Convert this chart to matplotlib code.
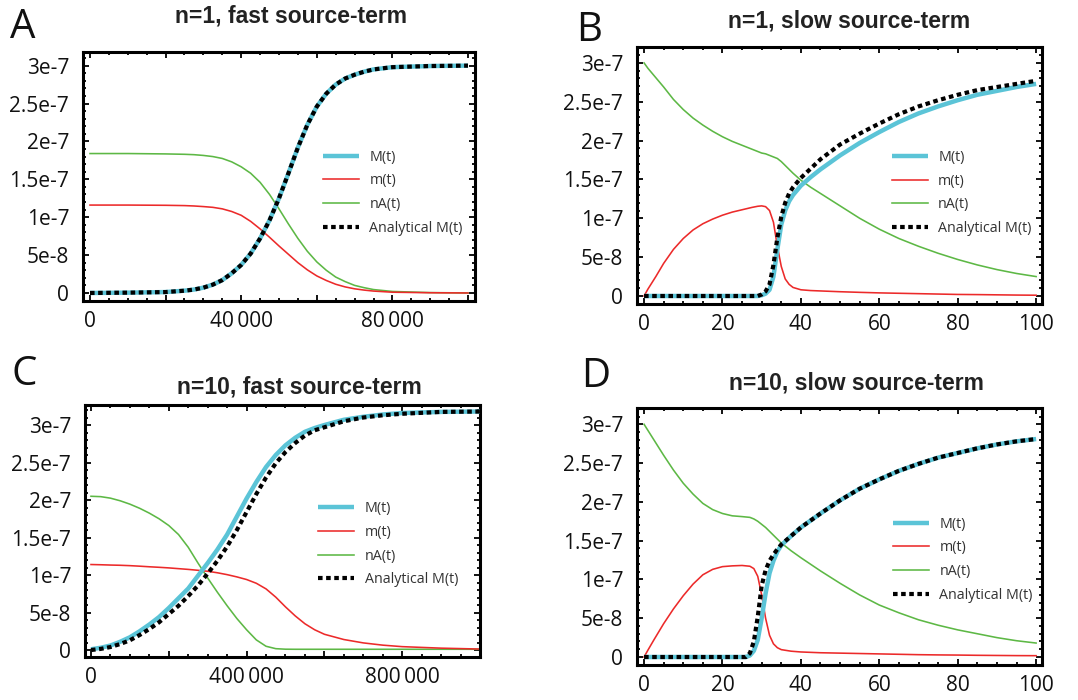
import matplotlib
matplotlib.use("Agg")
import matplotlib.pyplot as plt
from matplotlib.ticker import FixedLocator, MultipleLocator, FuncFormatter

# ---- panel A: n=1, fast source-term (values in units of 1e-7) ----
t_a = [0, 10000, 20000, 25000, 27500, 30000, 32500, 35000, 37500, 40000, 42500, 45000,
       47500, 50000, 52500, 55000, 57500, 60000, 62500, 65000, 67500, 70000, 72500, 75000,
       80000, 90000, 100000]
M_a = [0.0, 0.004, 0.012, 0.03, 0.045, 0.07, 0.11, 0.17, 0.26, 0.37, 0.52, 0.72,
       0.96, 1.25, 1.58, 1.92, 2.22, 2.46, 2.63, 2.75, 2.83, 2.88, 2.92, 2.95,
       2.98, 2.995, 3.0]
m_a = [1.16, 1.16, 1.157, 1.153, 1.148, 1.14, 1.13, 1.11, 1.075, 1.025, 0.945, 0.845,
       0.735, 0.62, 0.51, 0.40, 0.305, 0.225, 0.165, 0.115, 0.08, 0.055, 0.038, 0.025,
       0.01, 0.003, 0.0]
nA_a = [1.84, 1.84, 1.835, 1.83, 1.825, 1.815, 1.80, 1.775, 1.73, 1.665, 1.58, 1.46,
        1.30, 1.11, 0.91, 0.72, 0.55, 0.41, 0.30, 0.21, 0.15, 0.10, 0.07, 0.045,
        0.02, 0.005, 0.0]
Man_a = [0.0, 0.004, 0.012, 0.03, 0.045, 0.07, 0.11, 0.17, 0.26, 0.37, 0.52, 0.72,
         0.96, 1.25, 1.58, 1.92, 2.22, 2.46, 2.63, 2.75, 2.83, 2.88, 2.92, 2.95,
         2.98, 2.995, 3.0]

# ---- panel B: n=1, slow source-term ----
t_b = [0, 1, 2, 3, 5, 7.5, 10, 12.5, 15, 17.5, 20, 22.5, 25, 27.5, 29, 30, 31, 32, 33,
       34, 35, 36, 37, 38, 40, 42.5, 45, 50, 55, 60, 65, 70, 75, 80, 85, 90, 95, 100]
M_b = [0, 0, 0, 0, 0, 0, 0, 0, 0, 0, 0, 0, 0, 0, 0, 0.01, 0.03, 0.08, 0.25,
       0.6, 0.92, 1.1, 1.22, 1.3, 1.42, 1.53, 1.63, 1.81, 1.97, 2.11, 2.24, 2.35, 2.44,
       2.52, 2.59, 2.64, 2.69, 2.73]
m_b = [0.0, 0.09, 0.17, 0.25, 0.42, 0.6, 0.74, 0.85, 0.93, 0.99, 1.04, 1.08, 1.11, 1.14,
       1.155, 1.16, 1.15, 1.10, 0.95, 0.64, 0.38, 0.22, 0.15, 0.11, 0.08, 0.07, 0.065,
       0.055, 0.047, 0.04, 0.035, 0.03, 0.025, 0.02, 0.018, 0.015, 0.012, 0.01]
nA_b = [3.0, 2.93, 2.87, 2.81, 2.69, 2.53, 2.40, 2.29, 2.20, 2.12, 2.05, 1.99, 1.94, 1.89,
        1.86, 1.84, 1.83, 1.81, 1.79, 1.77, 1.73, 1.68, 1.63, 1.58, 1.49, 1.40, 1.32,
        1.16, 1.00, 0.86, 0.74, 0.64, 0.55, 0.47, 0.40, 0.34, 0.29, 0.25]
Man_b = [0, 0, 0, 0, 0, 0, 0, 0, 0, 0, 0, 0, 0, 0, 0, 0.02, 0.06, 0.15, 0.4,
         0.75, 1.02, 1.2, 1.32, 1.40, 1.52, 1.64, 1.76, 1.95, 2.09, 2.22, 2.34, 2.44, 2.52,
         2.59, 2.65, 2.69, 2.73, 2.77]

# ---- panel C: n=10, fast source-term ----
t_c = [0, 25000, 50000, 75000, 100000, 125000, 150000, 175000, 200000, 225000, 250000,
       275000, 300000, 325000, 350000, 375000, 400000, 425000, 450000, 475000, 500000,
       525000, 550000, 575000, 600000, 650000, 700000, 750000, 800000, 900000, 1000000]
M_c = [0.01, 0.03, 0.06, 0.11, 0.17, 0.25, 0.34, 0.44, 0.56, 0.69, 0.82,
       0.99, 1.16, 1.34, 1.54, 1.78, 2.02, 2.24, 2.44, 2.60, 2.73,
       2.83, 2.91, 2.96, 3.0, 3.07, 3.11, 3.14, 3.16, 3.175, 3.18]
m_c = [1.14, 1.137, 1.133, 1.13, 1.125, 1.118, 1.11, 1.103, 1.095, 1.085, 1.075,
       1.063, 1.05, 1.03, 1.005, 0.975, 0.94, 0.89, 0.815, 0.705, 0.575,
       0.455, 0.35, 0.27, 0.21, 0.14, 0.095, 0.065, 0.045, 0.025, 0.013]
nA_c = [2.05, 2.045, 2.025, 1.99, 1.945, 1.89, 1.825, 1.75, 1.66, 1.54, 1.37,
        1.16, 0.96, 0.77, 0.59, 0.42, 0.27, 0.135, 0.05, 0.018, 0.011,
        0.01, 0.01, 0.01, 0.01, 0.01, 0.01, 0.01, 0.01, 0.01, 0.01]
Man_c = [0.0, 0.015, 0.04, 0.08, 0.13, 0.2, 0.28, 0.37, 0.48, 0.59, 0.72,
         0.86, 1.02, 1.19, 1.38, 1.6, 1.84, 2.08, 2.3, 2.49, 2.64,
         2.76, 2.86, 2.93, 2.97, 3.05, 3.1, 3.13, 3.15, 3.175, 3.18]

# ---- panel D: n=10, slow source-term ----
t_d = [0, 1, 2.5, 5, 7.5, 10, 12.5, 15, 17.5, 20, 22.5, 25, 26, 27, 28, 29, 30, 31, 32,
       33, 34, 35, 37.5, 40, 45, 50, 55, 60, 65, 70, 75, 80, 85, 90, 95, 100]
M_d = [0, 0, 0, 0, 0, 0, 0, 0, 0, 0, 0, 0, 0, 0.02, 0.08, 0.22, 0.5, 0.82, 1.08,
       1.24, 1.36, 1.44, 1.56, 1.67, 1.85, 2.02, 2.17, 2.29, 2.4, 2.49, 2.57, 2.63, 2.69,
       2.74, 2.78, 2.81]
m_d = [0.0, 0.09, 0.22, 0.43, 0.62, 0.79, 0.94, 1.06, 1.13, 1.165, 1.175, 1.18, 1.175,
       1.17, 1.14, 1.04, 0.80, 0.50, 0.28, 0.17, 0.12, 0.095, 0.075, 0.065, 0.055, 0.05,
       0.045, 0.04, 0.035, 0.03, 0.027, 0.025, 0.022, 0.02, 0.018, 0.017]
nA_d = [3.0, 2.92, 2.8, 2.6, 2.41, 2.24, 2.1, 1.98, 1.9, 1.85, 1.82, 1.81, 1.805, 1.80,
        1.78, 1.75, 1.71, 1.67, 1.62, 1.57, 1.52, 1.47, 1.37, 1.28, 1.11, 0.95, 0.8, 0.67,
        0.57, 0.48, 0.41, 0.35, 0.3, 0.25, 0.21, 0.18]
Man_d = [0, 0, 0, 0, 0, 0, 0, 0, 0, 0, 0, 0, 0, 0.05, 0.2, 0.52, 0.92, 1.12, 1.24,
         1.32, 1.39, 1.45, 1.56, 1.67, 1.85, 2.02, 2.17, 2.29, 2.4, 2.49, 2.57, 2.63, 2.69,
         2.74, 2.78, 2.81]

SCALE = 1e-7
y_ticks = [0, 0.5e-7, 1e-7, 1.5e-7, 2e-7, 2.5e-7, 3e-7]
y_labels = ["0", "5e-8", "1e-7", "1.5e-7", "2e-7", "2.5e-7", "3e-7"]
series_names = ["M(t)", "m(t)", "nA(t)", "Analytical M(t)"]

CYAN = "#5bc4d7"
RED = "#ec2a2a"
GREEN = "#5db845"
TICK_FONT = ["Open Sans", "DejaVu Sans"]

W, H = 1078, 700
fig = plt.figure(figsize=(W / 100, H / 100), dpi=100)


def px_axes(left, top, right, bottom):
    return fig.add_axes([left / W, 1 - bottom / H, (right - left) / W, (bottom - top) / H])


def panel(box, t, M, m, nA, Man, xlim, ylim, xmajor, xminor, xlabels, legend_xy):
    ax = px_axes(*box)
    s = lambda v: [x * SCALE for x in v]
    ax.plot(t, s(nA), color=GREEN, lw=1.15, zorder=2, label=series_names[2])
    ax.plot(t, s(m), color=RED, lw=1.15, zorder=2, label=series_names[1])
    ax.plot(t, s(M), color=CYAN, lw=3.2, zorder=3, solid_capstyle="butt", label=series_names[0])
    ax.plot(t, s(Man), color="black", lw=3.0, dashes=(1.1, 0.85), zorder=4,
            label=series_names[3])
    ax.set_xlim(*xlim)
    ax.set_ylim(*ylim)

    ax.yaxis.set_major_locator(FixedLocator(y_ticks))
    ax.yaxis.set_minor_locator(MultipleLocator(1e-8))
    ax.set_yticklabels(y_labels)
    ax.xaxis.set_major_locator(MultipleLocator(xmajor))
    ax.xaxis.set_minor_locator(MultipleLocator(xminor))
    ax.xaxis.set_major_formatter(FuncFormatter(lambda v, p: xlabels.get(int(round(v)), "")))

    ax.tick_params(which="both", direction="in", top=True, right=True, width=1.3, color="black")
    ax.tick_params(which="major", length=4.5)
    ax.tick_params(which="minor", length=2.5)
    ax.tick_params(axis="y", which="major", pad=10, labelsize=15)
    ax.tick_params(axis="x", which="major", pad=7, labelsize=15)
    for lab in ax.get_xticklabels() + ax.get_yticklabels():
        lab.set_family(TICK_FONT)
        lab.set_color("#111111")
    for sp in ax.spines.values():
        sp.set_linewidth(2.2)

    handles, labels = ax.get_legend_handles_labels()
    order = [2, 1, 0, 3]
    leg = ax.legend([handles[i] for i in order], [labels[i] for i in order],
                    loc="center left", bbox_to_anchor=legend_xy, frameon=False,
                    borderpad=0, borderaxespad=0, handlelength=2.5, handletextpad=0.75,
                    labelspacing=0.62, prop={"family": TICK_FONT, "size": 10.3})
    for txt in leg.get_texts():
        txt.set_color("#333333")
    return ax


lab_a = {0: "0", 40000: "40\u2009000", 80000: "80\u2009000"}
lab_b = {0: "0", 20: "20", 40: "40", 60: "60", 80: "80", 100: "100"}
lab_c = {0: "0", 400000: "400\u2009000", 800000: "800\u2009000"}

panel((83, 52, 475, 301), t_a, M_a, m_a, nA_a, Man_a, (-1850, 101850), (-0.106e-7, 3.18e-7),
      20000, 5000, lab_a, (0.612, 0.434))
panel((637, 47, 1042, 304), t_b, M_b, m_b, nA_b, Man_b, (-1.8, 101.5), (-0.103e-7, 3.205e-7),
      20, 5, lab_b, (0.629, 0.432))
panel((85, 405, 480, 657), t_c, M_c, m_c, nA_c, Man_c, (-15400, 1.0e6), (-0.093e-7, 3.267e-7),
      200000, 50000, lab_c, (0.59, 0.448))
panel((637, 408, 1042, 665), t_d, M_d, m_d, nA_d, Man_d, (-1.8, 101.5), (-0.103e-7, 3.21e-7),
      20, 5, lab_b, (0.632, 0.409))

titles = ["n=1, fast source-term", "n=1, slow source-term",
          "n=10, fast source-term", "n=10, slow source-term"]
title_xy = [(291, 16), (849, 21), (299, 387), (856, 383)]
for txt, (x, y) in zip(titles, title_xy):
    fig.text(x / W, 1 - y / H, txt, ha="center", va="center", fontsize=16.5,
             fontweight="bold", family="Liberation Sans", color="#222222")

letters = ["A", "B", "C", "D"]
letter_xy = [(10, 38), (576, 41), (11, 385), (581, 387)]
for txt, (x, y) in zip(letters, letter_xy):
    fig.text(x / W, 1 - y / H, txt, ha="left", va="baseline", fontsize=29,
             family=TICK_FONT, color="#111111")

fig.savefig("out.png", dpi=100)
